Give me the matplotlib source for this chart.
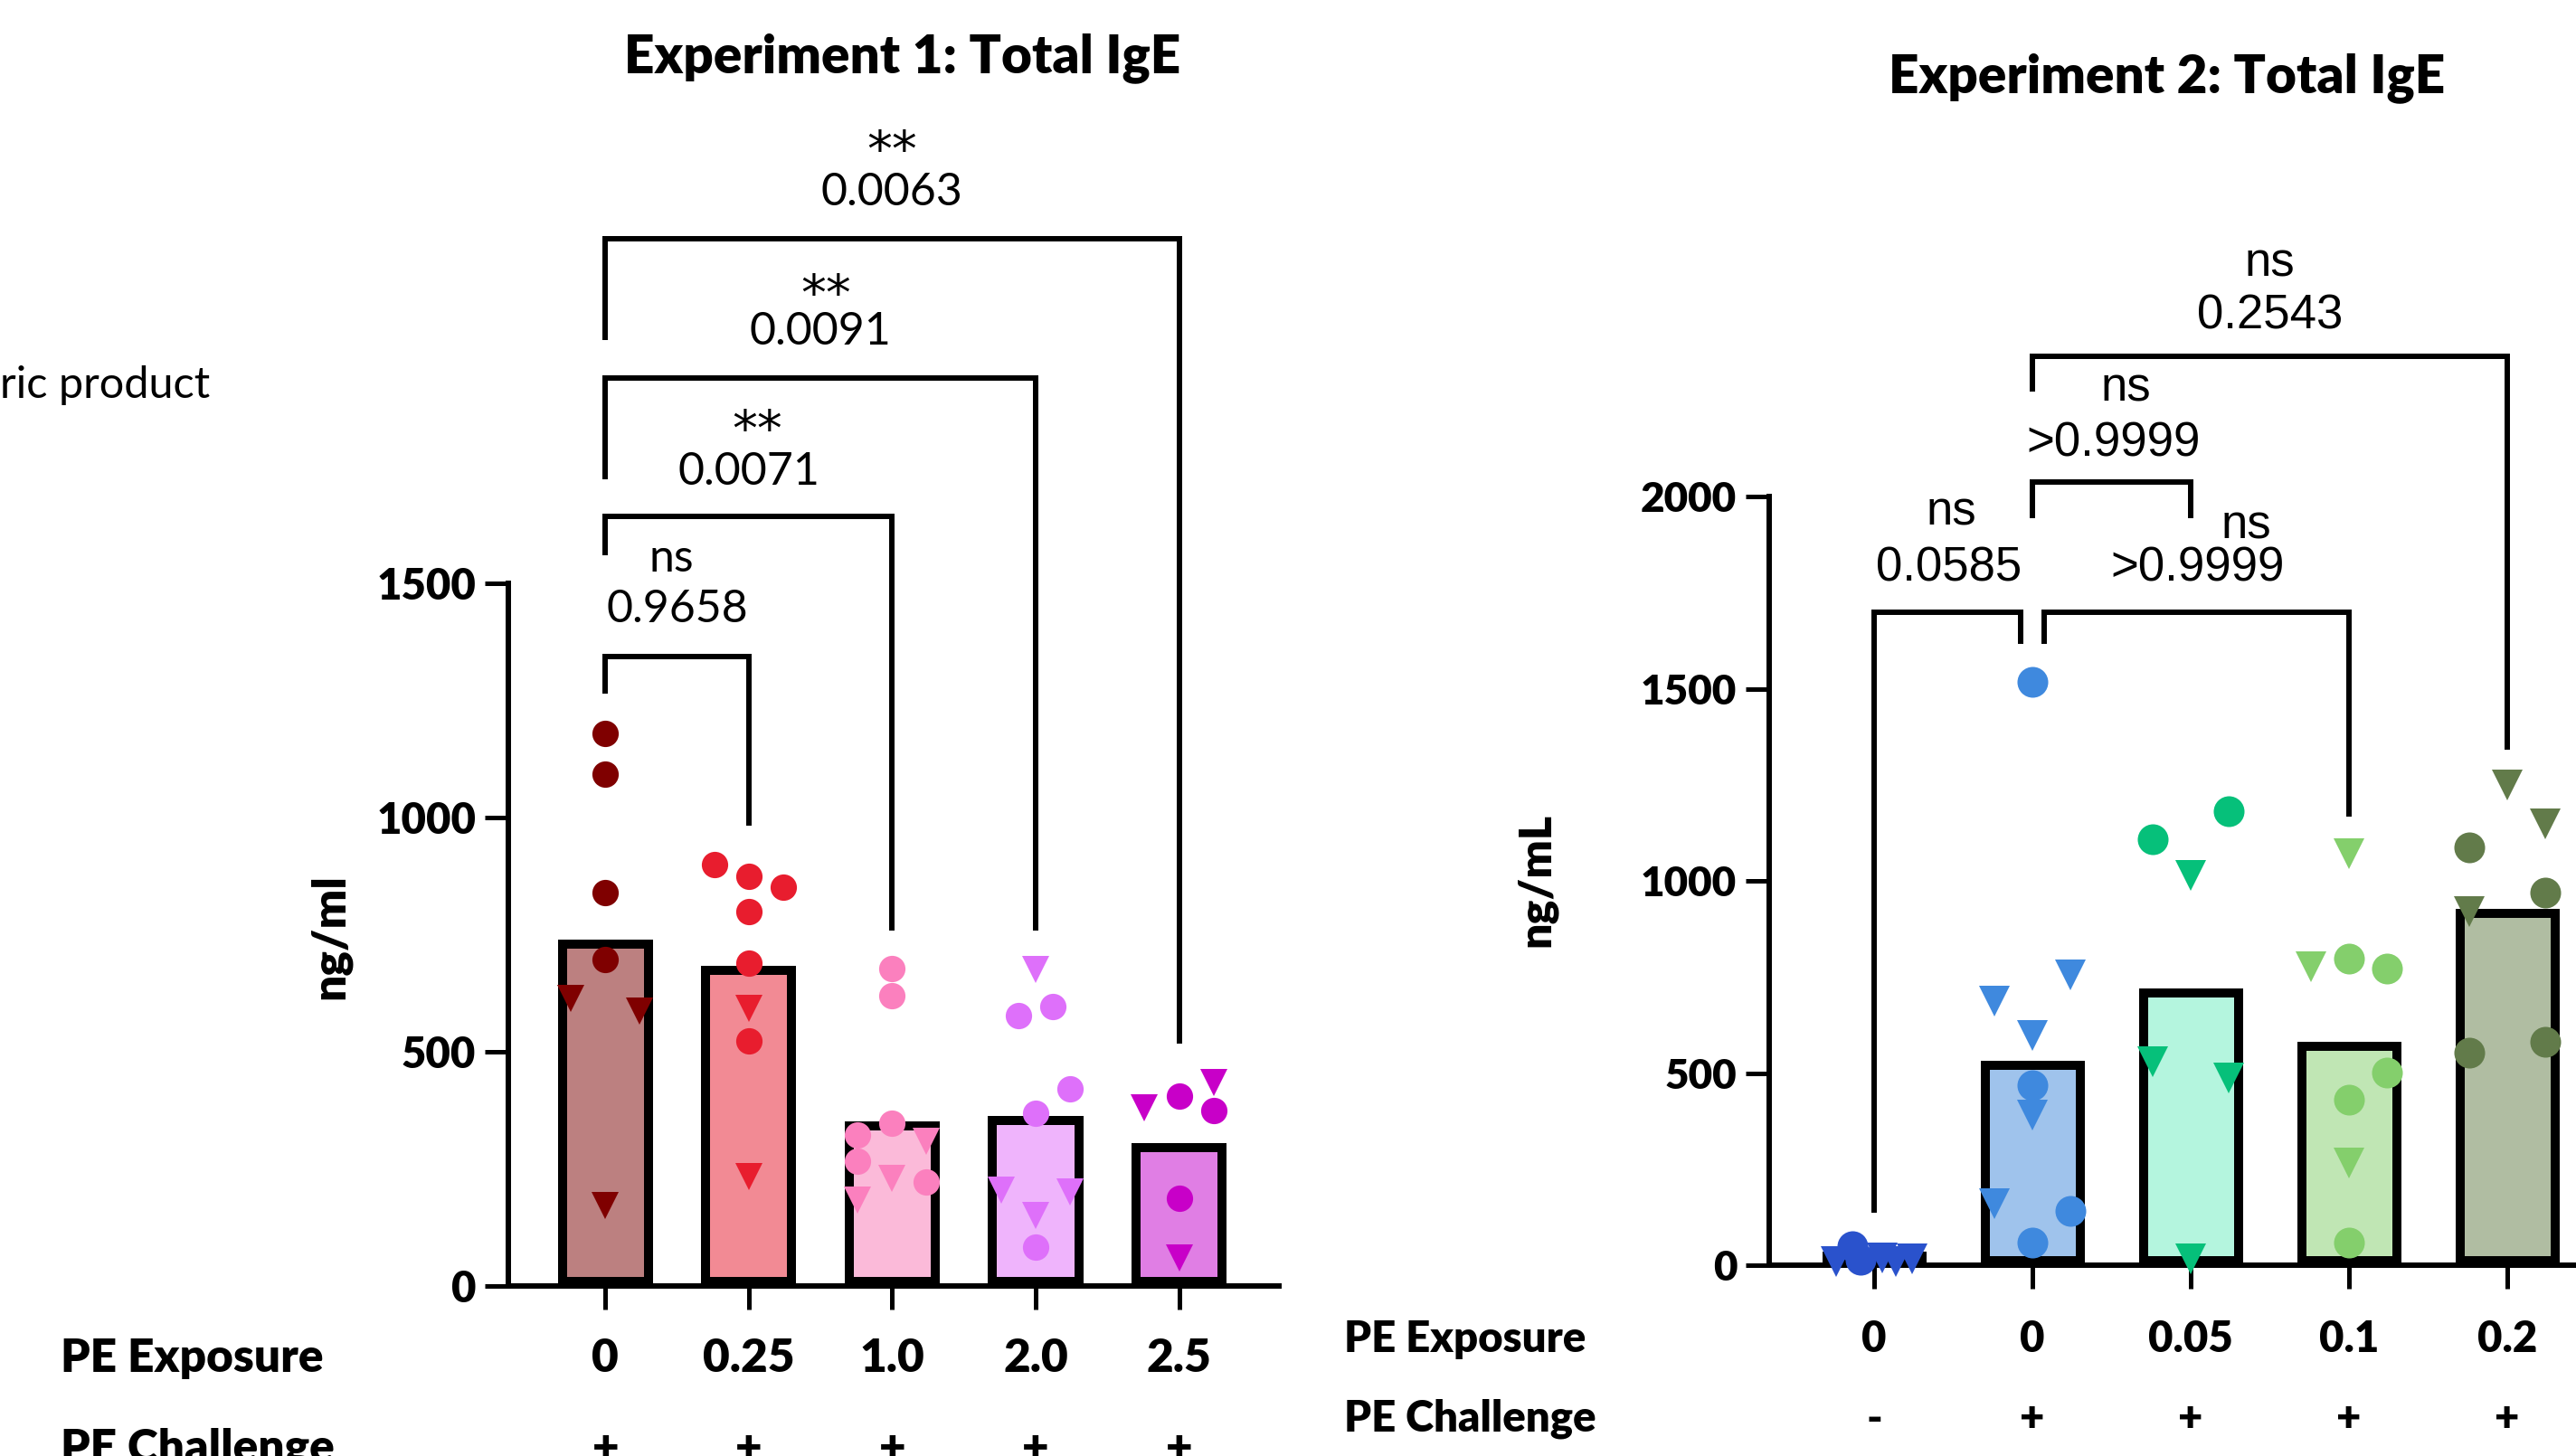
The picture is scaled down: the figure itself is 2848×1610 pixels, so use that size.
import numpy as np
import matplotlib
matplotlib.use("Agg")
import matplotlib.pyplot as plt
from matplotlib import transforms
from matplotlib.lines import Line2D

plt.rcParams['font.family'] = ['Lato', 'DejaVu Sans']

# ---------------- Experiment 1 data ----------------
exp1_exposure = ["0", "0.25", "1.0", "2.0", "2.5"]
exp1_challenge = ["+", "+", "+", "+", "+"]
exp1_bar = [740, 684, 352, 363, 305]
exp1_circles = [
    [1179, 1093, 840, 696],
    [899, 874, 852, 799, 689, 524],
    [677, 619, 347, 322, 267, 221],
    [597, 577, 420, 368, 82],
    [405, 375, 188],
]
exp1_circle_slot = [
    [0, 0, 0, 0],
    [-1, 0, 1, 0, 0, 0],
    [0, 0, 0, -1, -1, 1],
    [0.5, -0.5, 1, 0, 0],
    [0, 1, 0],
]
exp1_triangles = [
    [614, 586, 171],
    [592, 233],
    [308, 230, 184],
    [676, 204, 201, 150],
    [434, 380, 59],
]
exp1_triangle_slot = [
    [-1, 1, 0],
    [0, 0],
    [1, 0, -1],
    [0, -1, 1, 0],
    [1, -1, 0],
]
exp1_fill = ["#BC8080", "#F28A94", "#FBBAD9", "#EFB4FC", "#E07EE4"]
exp1_mark = ["#7F0000", "#E81D2E", "#FB80BE", "#DE70FA", "#C800C8"]
# (x_left, x_right, y_bar, y_left_end, y_right_end)
exp1_brackets = [
    (0, 1, 1344, 1264, 982),
    (0, 2, 1642, 1560, 759),
    (0, 3, 1939, 1722, 759),
    (0, 4, 2235, 2020, 517),
]
# (text, x, baseline value)
exp1_labels = [
    ("**", 2.0, 2390), ("0.0063", 2.0, 2307),
    ("**", 1.54, 2083), ("0.0091", 1.5, 2009),
    ("**", 1.06, 1794), ("0.0071", 1.0, 1711),
    ("ns", 0.46, 1525), ("0.9658", 0.5, 1417),
]

# ---------------- Experiment 2 data ----------------
exp2_exposure = ["0", "0", "0.05", "0.1", "0.2"]
exp2_challenge = ["-", "+", "+", "+", "+"]
exp2_bar = [35, 531, 720, 582, 928]
exp2_circles = [
    [50, 14],
    [1519, 469, 142, 59],
    [1182, 1109],
    [798, 771, 502, 430, 59],
    [1088, 971, 582, 553],
]
exp2_circle_slot = [
    [-0.58, -0.36],
    [0, 0, 1, 0],
    [1, -1],
    [0, 1, 1, 0, 0],
    [-1, 1, 1, -1],
]
exp2_triangles = [
    [10, 18, 10, 17],
    [756, 687, 597, 391, 161],
    [1014, 529, 488, 16],
    [1072, 776, 267],
    [1249, 1149, 920],
]
exp2_triangle_slot = [
    [-1, 0.2, 0.58, 1],
    [1, -1, 0, 0, -1],
    [0, -1, 1, 0],
    [0, -1, 0],
    [0, 1, -1],
]
exp2_fill = ["#98B8EA", "#9FC3EC", "#B4F5DE", "#C0E6B4", "#B0BDA2"]
exp2_mark = ["#2A52CC", "#3F89DE", "#06C07A", "#84CF6C", "#627B4A"]
exp2_brackets = [
    (0, 0.925, 1700, 137, 1617),
    (1.075, 3, 1700, 1617, 1167),
    (1, 2, 2038, 1945, 1945),
    (1, 4, 2366, 2275, 1342),
]
exp2_labels = [
    ("ns", 2.5, 2574), ("0.2543", 2.5, 2437),
    ("ns", 1.59, 2249), (">0.9999", 1.51, 2107),
    ("ns", 0.485, 1928), ("0.0585", 0.47, 1780),
    ("ns", 2.35, 1891), (">0.9999", 2.04, 1780),
]

DPI = 100
fig = plt.figure(figsize=(28.48, 16.10), dpi=DPI)
fig.patch.set_facecolor("white")

ax1 = fig.add_axes([0.1975, 0.1168, 0.2989, 0.4826])
ax2 = fig.add_axes([0.6869, 0.1311, 0.3325, 0.5276])

SPINE_LW = 4.3
BAR_LW = 7.2
SLOT = 0.24
HEAVY = "heavy"


def panel(ax, bars, circles, cslot, tris, tslot, fills, marks, ms,
          ylim, xlim, yticks, brackets, labels, pfont, psize, ytsize):
    ax.set_xlim(*xlim)
    ax.set_ylim(*ylim)
    n = len(bars)
    x = np.arange(n)
    # half bar edge width in data units, so the border sits inside the bar
    px_per_unit = ax.bbox.height / (ylim[1] - ylim[0])
    d = (BAR_LW * DPI / 72.0) / 2.0 / px_per_unit
    for i in range(n):
        ax.bar(x[i], bars[i] - 2 * d, bottom=d, width=0.6, color=fills[i],
               edgecolor="black", linewidth=BAR_LW, zorder=1,
               joinstyle="miter")
    for i in range(n):
        cx = x[i] + SLOT * np.array(cslot[i], dtype=float)
        ax.plot(cx, circles[i], linestyle="none", marker="o", ms=ms,
                color=marks[i], mew=0, zorder=4, clip_on=False)
        tx = x[i] + SLOT * np.array(tslot[i], dtype=float)
        ax.plot(tx, tris[i], linestyle="none", marker="v", ms=ms,
                color=marks[i], mew=0, zorder=4, clip_on=False)
    for (xl, xr, yb, yl, yr) in brackets:
        ax.add_line(Line2D([xl, xl, xr, xr], [yl, yb, yb, yr], color="black",
                           lw=SPINE_LW, clip_on=False, zorder=3,
                           solid_joinstyle="miter", solid_capstyle="butt"))
    for (t, tx_, ty_) in labels:
        if t == "**":
            ax.text(tx_, ty_, t, ha="center", va="baseline", fontsize=40,
                    family=["DejaVu Sans"], clip_on=False)
        else:
            ax.text(tx_, ty_, t, ha="center", va="baseline", fontsize=psize,
                    family=pfont, clip_on=False)
    for s in ["top", "right"]:
        ax.spines[s].set_visible(False)
    for s in ["left", "bottom"]:
        ax.spines[s].set_linewidth(SPINE_LW)
        ax.spines[s].set_capstyle("projecting")
    ax.set_yticks(yticks)
    ax.set_yticklabels([str(v) for v in yticks], fontsize=ytsize,
                       fontweight=HEAVY)
    ax.set_xticks(x)
    ax.set_xticklabels([])
    ax.tick_params(direction="out", length=19, width=3.6, pad=7,
                   color="black")
    ax.patch.set_alpha(0)


panel(ax1, exp1_bar, exp1_circles, exp1_circle_slot, exp1_triangles,
      exp1_triangle_slot, exp1_fill, exp1_mark, 21, (0, 1500),
      (-0.673, 4.695), [0, 500, 1000, 1500], exp1_brackets, exp1_labels,
      ["Lato", "DejaVu Sans"], 36, 34)
panel(ax2, exp2_bar, exp2_circles, exp2_circle_slot, exp2_triangles,
      exp2_triangle_slot, exp2_fill, exp2_mark, 24.5, (0, 2000),
      (-0.662, 4.75), [0, 500, 1000, 1500, 2000], exp2_brackets, exp2_labels,
      ["Liberation Sans", "DejaVu Sans"], 38, 33)

# category rows (x in data, y in figure)
tr1 = transforms.blended_transform_factory(ax1.transData, fig.transFigure)
tr2 = transforms.blended_transform_factory(ax2.transData, fig.transFigure)
for i, (e, c) in enumerate(zip(exp1_exposure, exp1_challenge)):
    ax1.text(i, 0.0579, e, transform=tr1, ha="center", va="baseline",
             fontsize=37, fontweight=HEAVY, clip_on=False)
    ax1.text(i, -0.0043, c, transform=tr1, ha="center", va="baseline",
             fontsize=37, fontweight=HEAVY, clip_on=False)
for i, (e, c) in enumerate(zip(exp2_exposure, exp2_challenge)):
    ax2.text(i, 0.0717, e, transform=tr2, ha="center", va="baseline",
             fontsize=34, fontweight=HEAVY, clip_on=False)
    ax2.text(i, 0.0168, c, transform=tr2, ha="center", va="baseline",
             fontsize=34, fontweight=HEAVY, clip_on=False)

fig.text(0.0235, 0.0579, "PE Exposure", ha="left", va="baseline",
         fontsize=37, fontweight=HEAVY)
fig.text(0.0235, -0.0043, "PE Challenge", ha="left", va="baseline",
         fontsize=37, fontweight=HEAVY)
fig.text(0.5217, 0.0717, "PE Exposure", ha="left", va="baseline",
         fontsize=34, fontweight=HEAVY)
fig.text(0.5217, 0.0168, "PE Challenge", ha="left", va="baseline",
         fontsize=34, fontweight=HEAVY)

# y labels
fig.text(0.1282, 0.3571, "ng/ml", rotation=90, ha="center", va="center",
         fontsize=37, fontweight=HEAVY)
fig.text(0.5966, 0.396, "ng/mL", rotation=90, ha="center", va="center",
         fontsize=36, fontweight=HEAVY)

# titles
fig.text(0.3504, 0.9501, "Experiment 1: Total IgE", ha="center",
         va="baseline", fontsize=42, fontweight=HEAVY)
fig.text(0.8413, 0.9362, "Experiment 2: Total IgE", ha="center",
         va="baseline", fontsize=42, fontweight=HEAVY)

# partially visible legend text
fig.text(0.0, 0.7269, "ric product", ha="left", va="baseline", fontsize=35)

fig.savefig("out.png", dpi=DPI, facecolor="white")
